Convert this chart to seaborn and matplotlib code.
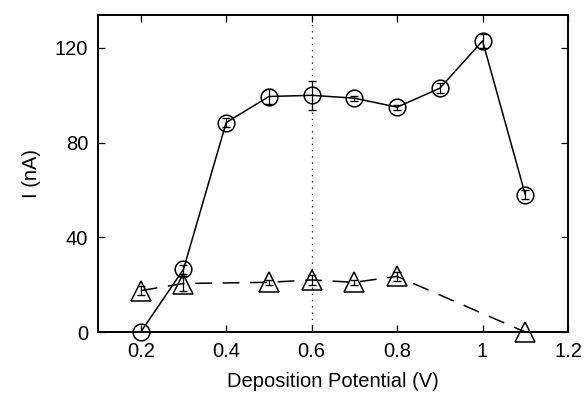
import matplotlib
matplotlib.use('Agg')
import matplotlib.pyplot as plt
import pandas as pd
import seaborn as sns

# circle series
volt_c = [0.2, 0.3, 0.4, 0.5, 0.6, 0.7, 0.8, 0.9, 1.0, 1.1]
curr_c = [0, 26.5, 88.5, 99.5, 100, 98.8, 95, 103, 123, 58]
err_c = [0, 2, 2, 3, 6, 1, 1, 2, 3, 2]

# triangle series
volt_t = [0.2, 0.3, 0.5, 0.6, 0.7, 0.8, 1.1]
curr_t = [17.5, 20.5, 21, 22, 21, 23.5, 0]
err_t = [2, 3, 1, 2, 1, 2, 0]

sns.set_style('ticks')
plt.rcParams['font.family'] = ['Liberation Sans', 'DejaVu Sans']
plt.rcParams['text.color'] = 'k'
plt.rcParams['axes.labelcolor'] = 'k'
plt.rcParams['xtick.color'] = 'k'
plt.rcParams['ytick.color'] = 'k'
plt.rcParams['axes.edgecolor'] = 'k'

datos_c = pd.DataFrame({'V': volt_c, 'I': curr_c})
datos_t = pd.DataFrame({'V': volt_t, 'I': curr_t})

fig = plt.figure(figsize=(5.88, 4.01), dpi=100)
ax = fig.add_axes([0.1667, 0.172, 0.7993, 0.791])

ax.axvline(0.6, color='k', linestyle=(0, (1, 4)), linewidth=0.9)

sns.lineplot(data=datos_c, x='V', y='I', ax=ax, color='k', linewidth=1.1,
             marker='o', markersize=12, markerfacecolor='none',
             markeredgecolor='k', markeredgewidth=1.1, clip_on=False)
sns.lineplot(data=datos_t, x='V', y='I', ax=ax, color='k', linewidth=1.1,
             linestyle=(0, (11, 7)), marker='^', markersize=14,
             markerfacecolor='none', markeredgecolor='k',
             markeredgewidth=1.1, clip_on=False)

ax.errorbar(volt_c, curr_c, yerr=err_c, fmt='none', ecolor='k',
            elinewidth=0.9, capsize=3)
ax.errorbar(volt_t, curr_t, yerr=err_t, fmt='none', ecolor='k',
            elinewidth=0.9, capsize=3)

ax.set_xlim(0.1, 1.2)
ax.set_ylim(0, 134)
ax.set_xticks([0.2, 0.4, 0.6, 0.8, 1.0, 1.2])
ax.set_xticklabels(['0.2', '0.4', '0.6', '0.8', '1', '1.2'])
ax.set_yticks([0, 40, 80, 120])
ax.tick_params(direction='in', top=True, right=True, labelsize=14.5,
               length=5, width=0.9, pad=7)
for s in ax.spines.values():
    s.set_linewidth(1.4)
ax.set_xlabel('Deposition Potential (V)', fontsize=14.5, labelpad=8)
ax.set_ylabel('I (nA)', fontsize=14.5, labelpad=10)

fig.savefig('out.png', dpi=100)
